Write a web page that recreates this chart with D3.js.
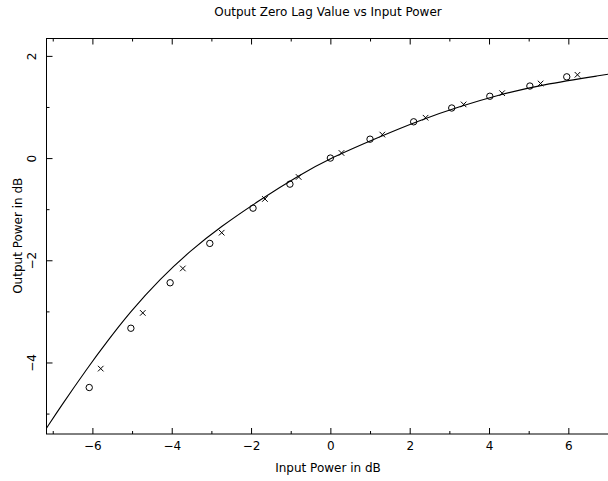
<!DOCTYPE html>
<html>
<head>
<meta charset="utf-8">
<script src="https://cdn.jsdelivr.net/npm/d3@7"></script>
<style>
	body { margin: 0; background: #fff; }
	text { font-family: "DejaVu Sans", sans-serif; fill: #000; }
</style>
</head>
<body>
<div id="main"></div>
<script>
// measured points, input power (dB) vs output power (dB)
var circleX = [-6.08, -5.03, -4.04, -3.04, -1.95, -1.02, 0, 1.0, 2.1, 3.06, 4.02, 5.03, 5.96];
var circleY = [-4.49, -3.33, -2.44, -1.67, -0.98, -0.51, 0, 0.37, 0.71, 0.98, 1.21, 1.41, 1.59];
var crossX = [-5.79, -4.73, -3.72, -2.74, -1.65, -0.80, 0.28, 1.31, 2.40, 3.36, 4.33, 5.30, 6.23];
var crossY = [-4.12, -3.03, -2.16, -1.46, -0.80, -0.37, 0.10, 0.46, 0.79, 1.05, 1.27, 1.46, 1.63];
// theoretical curve
var curveX = [-7.17, -6.78, -6.1, -5.64, -5.05, -4.29, -3.54, -2.78, -1.78, -0.77, 0, 1.25, 2.25, 3.26, 4.27, 5.28, 7.0];
var curveY = [-5.30, -4.84, -4.08, -3.60, -3.01, -2.36, -1.82, -1.35, -0.82, -0.33, 0, 0.42, 0.74, 1.01, 1.24, 1.43, 1.64];
var majorX = [-6, -4, -2, 0, 2, 4, 6];
var minorX = [-7, -5, -3, -1, 1, 3, 5, 7];
var majorY = [-4, -2, 0, 2];
var minorY = [-5, -3, -1, 1];

var WIDTH = 608, HEIGHT = 481;
var margin = {left: 46, top: 38, right: 608.5, bottom: 433.5};

var x = d3.scaleLinear().domain([-7.17, 7.0]).range([margin.left, 608]);
var y = d3.scaleLinear().domain([-5.39, 2.35]).range([margin.bottom, margin.top]);

var svg = d3.select("#main").append("svg")
	.attr("width", WIDTH)
	.attr("height", HEIGHT);

svg.append("defs").append("clipPath").attr("id", "clip")
	.append("rect")
		.attr("x", margin.left).attr("y", margin.top)
		.attr("width", margin.right - margin.left)
		.attr("height", margin.bottom - margin.top);

// frame
svg.append("rect")
	.attr("x", margin.left + 0.5).attr("y", margin.top + 0.5)
	.attr("width", margin.right - margin.left)
	.attr("height", margin.bottom - margin.top)
	.attr("fill", "none").attr("stroke", "#000").attr("stroke-width", 1);

function tickAxis(gen, scale, vals, size, tx, labels) {
	var g = svg.append("g")
		.attr("transform", tx)
		.call(gen(scale).tickValues(vals).tickSize(-size).tickSizeOuter(0)
			.tickFormat(labels ? d3.format("") : ""));
	g.select(".domain").remove();
	g.selectAll("line").attr("stroke", "#000");
	return g;
}

// bottom / top
var bx = tickAxis(d3.axisBottom, x, majorX, 6, "translate(0," + (margin.bottom + 0.5) + ")", true);
tickAxis(d3.axisBottom, x, minorX, 3, "translate(0," + (margin.bottom + 0.5) + ")", false);
tickAxis(d3.axisTop, x, majorX, 6, "translate(0," + (margin.top + 0.5) + ")", false);
tickAxis(d3.axisTop, x, minorX, 3, "translate(0," + (margin.top + 0.5) + ")", false);
bx.selectAll("text").attr("y", 15.5).attr("dy", null).style("font-size", "12px");

// left
var ly = tickAxis(d3.axisLeft, y, majorY, 6, "translate(" + (margin.left + 0.5) + ",0)", true);
tickAxis(d3.axisLeft, y, minorY, 3, "translate(" + (margin.left + 0.5) + ",0)", false);
ly.selectAll("text")
	.attr("x", null).attr("dy", null)
	.attr("text-anchor", "middle")
	.attr("transform", "translate(-11,0) rotate(-90)")
	.style("font-size", "12px");

// data
var clipG = svg.append("g").attr("clip-path", "url(#clip)");

var curve = curveX.map(function(d, i) { return [d, curveY[i]]; });
clipG.append("path")
	.datum(curve)
	.attr("fill", "none")
	.attr("stroke", "#000")
	.attr("stroke-width", 1.1)
	.attr("d", d3.line().x(function(d) { return x(d[0]); }).y(function(d) { return y(d[1]); })
		.curve(d3.curveBasis));

clipG.selectAll(".circ").data(circleX).enter().append("circle")
	.attr("class", "circ")
	.attr("cx", function(d) { return x(d); })
	.attr("cy", function(d, i) { return y(circleY[i]); })
	.attr("r", 3.2)
	.attr("fill", "none").attr("stroke", "#000").attr("stroke-width", 1);

var sym = d3.symbol().type(d3.symbolX).size(22);
clipG.selectAll(".cross").data(crossX).enter().append("path")
	.attr("class", "cross")
	.attr("transform", function(d, i) { return "translate(" + x(d) + "," + y(crossY[i]) + ")"; })
	.attr("d", sym)
	.attr("fill", "none").attr("stroke", "#000").attr("stroke-width", 1);

// titles
svg.append("text")
	.attr("x", 328).attr("y", 16)
	.attr("text-anchor", "middle")
	.style("font-size", "12px")
	.text("Output Zero Lag Value vs Input Power");

svg.append("text")
	.attr("x", 328).attr("y", 472)
	.attr("text-anchor", "middle")
	.style("font-size", "12px")
	.text("Input Power in dB");

svg.append("text")
	.attr("transform", "translate(22," + ((margin.top + margin.bottom) / 2) + ") rotate(-90)")
	.attr("text-anchor", "middle")
	.style("font-size", "12px")
	.text("Output Power in dB");
</script>
</body>
</html>
